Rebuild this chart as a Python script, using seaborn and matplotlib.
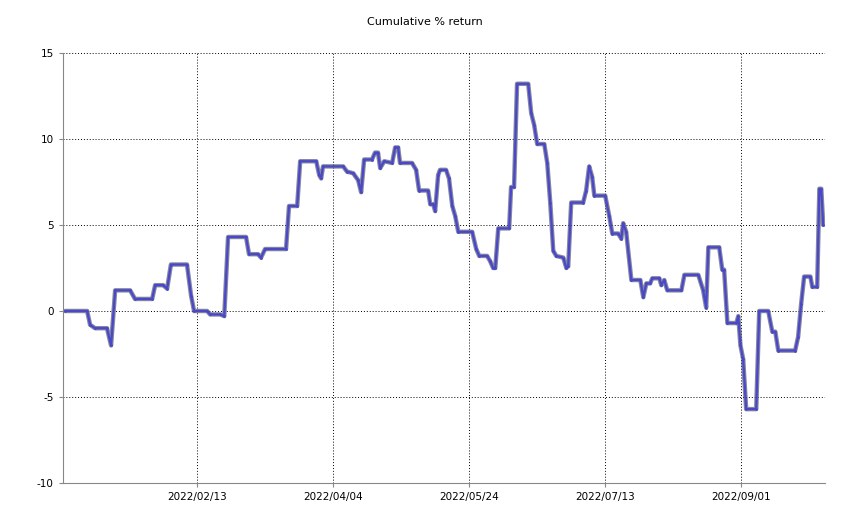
import matplotlib
matplotlib.use("Agg")
import matplotlib.pyplot as plt
import matplotlib.dates as mdates
import seaborn as sns
import pandas as pd
import numpy as np

day = [-5.5,2.6,3.7,5.5,9.9,11.4,12.9,18.4,20.2,26.5,27.6,30.5,32,33.4,39.3,40.8,41.9,46.7,47.8,51.5,53,54.4,
       61,62.1,65.4,66.5,68,75.7,76.8,79.8,80.9,86.8,87.9,88.6,89.3,96.7,98.1,100.4,102.2,103.3,104.4,107.3,
       108.4,109.5,110.3,111.8,114.7,115.8,116.9,117.6,122,123.5,124.6,127.9,128.7,129.8,130.5,131.6,132.3,
       134.5,135.6,136.8,137.9,139,144.1,145.6,146.7,149.6,150.7,151.8,152.6,153.7,157.7,158.4,159.5,160.6,
       164.7,165.8,166.9,168,170.6,171.7,172.8,173.9,175,177.6,178.7,179.4,180.5,184.9,186,187.1,188.2,189,
       193,194.5,195.6,197.8,198.9,199.6,200.7,202.6,205.9,207,208.1,209.5,210.3,212.9,213.6,214.7,215.8,
       221,222.1,227.2,229,230.1,230.9,234.9,236,236.7,237.9,241.2,241.9,242.7,243.7,244.8,248.5,249.6,
       252.9,254.4,255.5,256.6,262.8,263.9,265,266.1,268.4,269.1,270.9,271.7,272.4,273.1]
ret = [0,0,-0.8,-1.0,-1.0,-2.0,1.2,1.2,0.7,0.7,1.5,1.5,1.3,2.7,2.7,0.9,0,0,-0.2,-0.2,-0.3,4.3,
       4.3,3.3,3.3,3.1,3.6,3.6,6.1,6.1,8.7,8.7,7.9,7.7,8.4,8.4,8.1,8.0,7.6,6.9,8.8,8.8,
       9.2,9.2,8.3,8.7,8.6,9.5,9.5,8.6,8.6,8.2,7.0,7.0,6.2,6.2,5.8,7.9,8.2,
       8.2,7.7,6.1,5.5,4.6,4.6,3.6,3.2,3.2,2.9,2.5,2.5,4.8,4.8,7.2,7.2,13.2,
       13.2,11.5,10.8,9.7,9.7,8.6,6.3,3.5,3.2,3.1,2.5,2.6,6.3,6.3,7.0,8.4,7.8,6.7,
       6.7,5.5,4.5,4.5,4.2,5.1,4.6,1.8,1.8,0.8,1.6,1.6,1.9,1.9,1.5,1.8,1.2,
       1.2,2.1,2.1,1.2,0.2,3.7,3.7,2.4,2.4,-0.7,-0.7,-0.3,-2.0,-2.8,-5.7,-5.7,0,
       0,-1.2,-1.2,-2.3,-2.3,-1.5,0.4,2.0,2.0,1.4,1.4,7.1,7.1,5.0]

base = pd.Timestamp("2022-01-01")
df = pd.DataFrame({"date": [base + pd.Timedelta(days=d) for d in day], "ret": ret})

sns.set_style("white")
plt.rcParams['font.family'] = ['DejaVu Sans']
plt.rcParams['axes.unicode_minus'] = False
fig = plt.figure(figsize=(8.5, 5.28), dpi=100)
ax = fig.add_axes([0.074, 0.085, 0.897, 0.815])
sns.lineplot(data=df, x="date", y="ret", ax=ax, color="#555577", lw=3.2, alpha=0.7)
sns.lineplot(data=df, x="date", y="ret", ax=ax, color="#4848c8", lw=1.6, marker="o", markersize=2,
             markeredgewidth=0)
ax.set_ylim(-10, 15)
ax.set_yticks([-10, -5, 0, 5, 10, 15])
ax.set_xlim(base + pd.Timedelta(days=-6.3), base + pd.Timedelta(days=273.9))
ticks = [pd.Timestamp(s) for s in ["2022-02-13", "2022-04-04", "2022-05-24", "2022-07-13", "2022-09-01"]]
ax.set_xticks(ticks)
ax.xaxis.set_major_formatter(mdates.DateFormatter("%Y/%m/%d"))
ax.grid(True, color="black", linestyle=(0, (1, 2)), linewidth=0.7)
ax.set_xlabel(""); ax.set_ylabel("")
for s in ["top", "right"]:
    ax.spines[s].set_visible(False)
for s in ["left", "bottom"]:
    ax.spines[s].set_color("#888888")
ax.tick_params(labelsize=7.5, length=3, left=True, bottom=True, color="#888888", labelcolor="black")
fig.text(0.5, 0.958, "Cumulative % return", ha="center", va="center", fontsize=8, color="black")
fig.savefig("out.png", dpi=100)
